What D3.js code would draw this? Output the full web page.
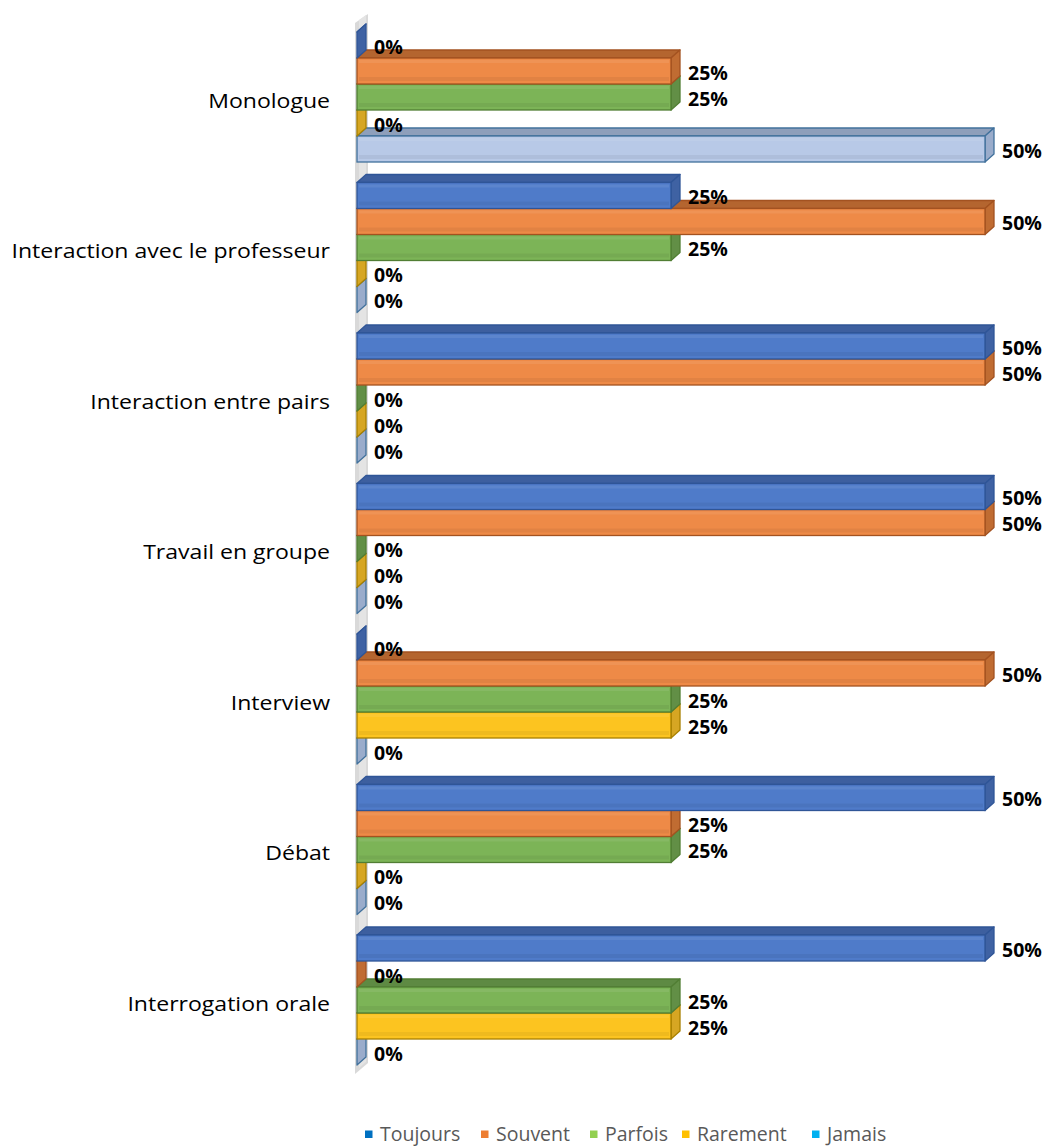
<!DOCTYPE html>
<html>
<head>
<meta charset="utf-8">
<script src="https://cdn.jsdelivr.net/npm/d3@7"></script>
<style>
  html, body { margin: 0; padding: 0; background: #fff; }
  svg { display: block; }
</style>
</head>
<body>
<svg id="chart" width="1048" height="1146"></svg>
<script>
const categories = ["Monologue", "Interaction avec le professeur", "Interaction entre pairs", "Travail en groupe", "Interview", "Débat", "Interrogation orale"];
const seriesNames = ["Toujours", "Souvent", "Parfois", "Rarement", "Jamais"];
const toujours = [0, 0.25, 0.5, 0.5, 0, 0.5, 0.5];
const souvent  = [0.25, 0.5, 0.5, 0.5, 0.5, 0.25, 0];
const parfois  = [0.25, 0.25, 0, 0, 0.25, 0.25, 0.25];
const rarement = [0, 0, 0, 0, 0.25, 0, 0.25];
const jamais   = [0.5, 0, 0, 0, 0, 0, 0];
const seriesValues = [toujours, souvent, parfois, rarement, jamais];

// styling
const faceColors  = ["#4F7BC9", "#EE8A47", "#7CB457", "#FCC420", "#B8C9E7"];
const topColors   = ["#3D5F9F", "#B4652F", "#5E8A43", "#C79B1C", "#8E9FBB"];
const sideColors  = ["#3F62A3", "#C06C32", "#628F46", "#D6A623", "#9AACCB"];
const strokeColors= ["#2F5597", "#A35220", "#517E34", "#A88000", "#41719C"];
const legendColors= ["#0070C0", "#ED7D31", "#92D050", "#FFC000", "#00B0F0"];

const svg = d3.select("#chart");
const dx = 9, dy = 8;
const FONT = "'Open Sans', 'Noto Sans', sans-serif";

const x = d3.scaleLinear().domain([0, 0.5]).range([357, 985]);
const yCat = d3.scaleBand().domain(categories).range([21.5, 1075]).padding(0);
const ySer = d3.scaleBand().domain(seriesNames).range([10.5, 140.5]).padding(0);

// wall
svg.append("path")
  .attr("d", `M355,23 L368,14 L368,1063 L355,1074 Z`)
  .attr("fill", "#D9D9D9");
svg.append("path")
  .attr("d", `M359,20 L366,15 L366,1062 L359,1068 Z`)
  .attr("fill", "#E4E4E4");

// bars: draw bottom categories first, bottom series first so upper ones overlay
const g = svg.append("g");
const cats = categories.map((c, i) => i).reverse();
cats.forEach(ci => {
  for (let si = seriesNames.length - 1; si >= 0; si--) {
    const v = seriesValues[si][ci];
    const top = yCat(categories[ci]) + ySer(seriesNames[si]);
    const h = ySer.bandwidth();
    const x0 = x(0), x1 = x(v);
    const bar = g.append("g");
    bar.append("path")
      .attr("d", `M${x0},${top} L${x0+dx},${top-dy} L${x1+dx},${top-dy} L${x1},${top} Z`)
      .attr("fill", topColors[si]).attr("stroke", strokeColors[si]).attr("stroke-width", 1.3)
      .attr("stroke-linejoin", "round");
    bar.append("path")
      .attr("d", `M${x1},${top} L${x1+dx},${top-dy} L${x1+dx},${top+h-dy} L${x1},${top+h} Z`)
      .attr("fill", sideColors[si]).attr("stroke", strokeColors[si]).attr("stroke-width", 1.3)
      .attr("stroke-linejoin", "round");
    if (x1 > x0) {
      bar.append("rect")
        .attr("x", x0).attr("y", top).attr("width", x1 - x0).attr("height", h)
        .attr("fill", faceColors[si]).attr("stroke", strokeColors[si]).attr("stroke-width", 1.3);
      bar.append("rect")
        .attr("x", x0 + 2).attr("y", top + h - 7).attr("width", Math.max(0, x1 - x0 - 4)).attr("height", 4)
        .attr("fill", "#000").attr("opacity", 0.05);
      bar.append("rect")
        .attr("x", x0 + 2).attr("y", top + 2).attr("width", Math.max(0, x1 - x0 - 4)).attr("height", 3)
        .attr("fill", "#fff").attr("opacity", 0.08);
    }
  }
});

// data labels
const labels = svg.append("g")
  .attr("font-family", FONT)
  .attr("font-weight", "bold").attr("font-size", 19.5).attr("fill", "#000");
categories.forEach((c, ci) => {
  seriesNames.forEach((s, si) => {
    const v = seriesValues[si][ci];
    labels.append("text")
      .attr("x", x(v) + 17)
      .attr("y", yCat(c) + ySer(s) + ySer.bandwidth() / 2 + 1)
      .attr("dominant-baseline", "central")
      .text(d3.format(".0%")(v));
  });
});

// category labels (slightly widened to match the reference's proportions)
svg.append("g")
  .attr("font-family", FONT)
  .attr("font-size", 20.5).attr("fill", "#000")
  .selectAll("text").data(categories).join("text")
  .attr("transform", d => `translate(330,${yCat(d) + yCat.bandwidth() / 2 + 3}) scale(1.125,1)`)
  .attr("text-anchor", "end")
  .attr("dominant-baseline", "central")
  .text(d => d);

// legend
const legendX = [365, 481, 590, 682, 812];
const leg = svg.append("g")
  .attr("font-family", FONT)
  .attr("font-size", 19.5).attr("fill", "#595959");
seriesNames.forEach((s, i) => {
  const item = leg.append("g").attr("transform", `translate(${legendX[i]},1134)`);
  item.append("rect").attr("x", 0).attr("y", -3.5).attr("width", 7.5).attr("height", 7.5).attr("fill", legendColors[i]);
  item.append("text").attr("x", 15).attr("y", 6.5).text(s);
});
</script>
</body>
</html>
